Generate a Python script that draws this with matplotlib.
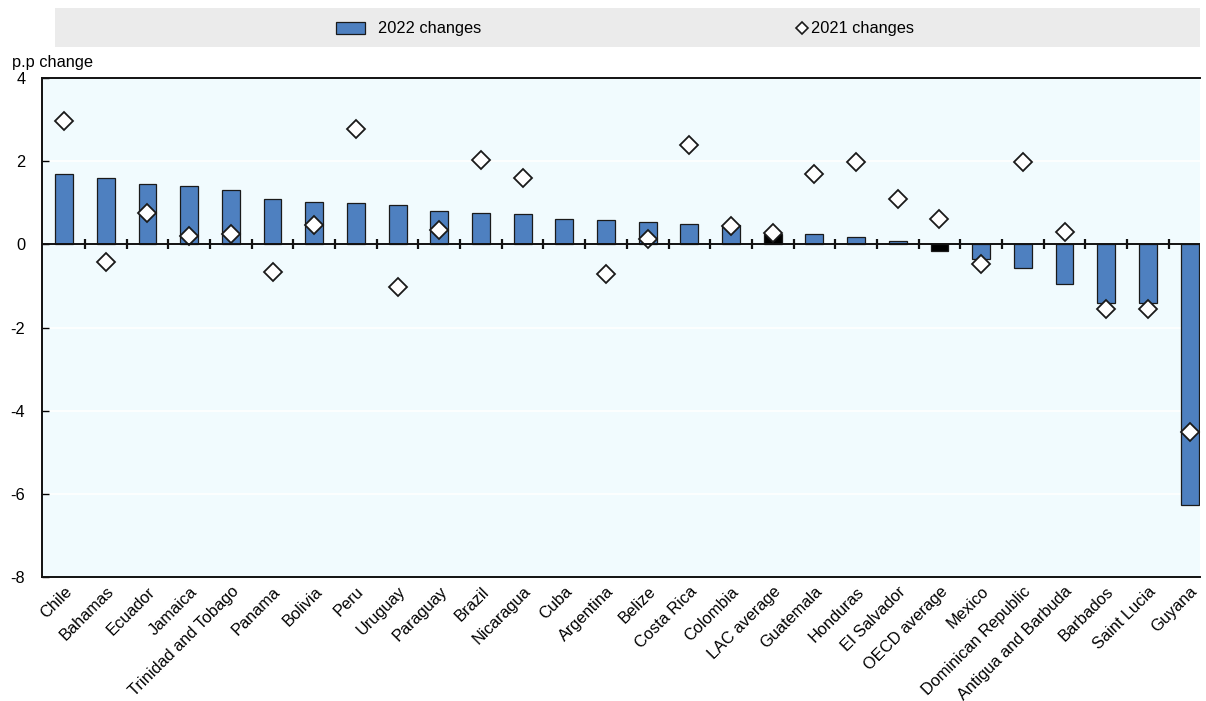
import numpy as np
import matplotlib
matplotlib.use("Agg")
import matplotlib.pyplot as plt
from matplotlib.patches import Rectangle
from matplotlib.lines import Line2D
from matplotlib import font_manager

categories = ["Chile", "Bahamas", "Ecuador", "Jamaica", "Trinidad and Tobago", "Panama",
              "Bolivia", "Peru", "Uruguay", "Paraguay", "Brazil", "Nicaragua", "Cuba",
              "Argentina", "Belize", "Costa Rica", "Colombia", "LAC average", "Guatemala",
              "Honduras", "El Salvador", "OECD average", "Mexico", "Dominican Republic",
              "Antigua and Barbuda", "Barbados", "Saint Lucia", "Guyana"]
changes_2022 = [1.70, 1.60, 1.45, 1.40, 1.30, 1.08, 1.03, 1.00, 0.94, 0.80, 0.75, 0.72, 0.60,
                0.58, 0.53, 0.50, 0.46, 0.26, 0.24, 0.17, 0.08, -0.15, -0.36, -0.58,
                -0.95, -1.40, -1.40, -6.27]
changes_2021 = [2.96, -0.43, 0.75, 0.20, 0.25, -0.67, 0.46, 2.77, -1.03, 0.35, 2.02, 1.60, np.nan,
                -0.72, 0.13, 2.40, 0.43, 0.27, 1.70, 1.98, 1.10, 0.60, -0.47, 1.98,
                0.29, -1.56, -1.56, -4.52]
highlight = ["LAC average", "OECD average"]
yticks = [4, 2, 0, -2, -4, -6, -8]

names = {f.name for f in font_manager.fontManager.ttflist}
fam = [n for n in ["Liberation Sans Narrow", "Liberation Sans"] if n in names] + ["DejaVu Sans"]
plt.rcParams['font.family'] = fam
narrow = fam[0] == "Liberation Sans Narrow"
fs = 13.4 if narrow else 11.8
fs_leg = 13.3 if narrow else 11.8

fig = plt.figure(figsize=(12.06, 7.01), dpi=100)
ax = fig.add_axes([42/1206, 1-577/701, (1200-42)/1206, (577-78)/701])
ax.set_facecolor("#F1FBFE")

x = np.arange(len(categories))
colors = ["#000000" if c in highlight else "#4E80C0" for c in categories]
ax.bar(x, changes_2022, width=0.43, color=colors, edgecolor="#1a1a1a", linewidth=0.9, zorder=3)
ax.plot(x, changes_2021, linestyle="none", marker="D", markersize=8.8,
        markerfacecolor="white", markeredgecolor="#1a1a1a", markeredgewidth=1.3, zorder=4)

ax.set_xlim(-0.53, len(categories) - 0.75)
ax.set_ylim(-8, 4)
ax.set_yticks(yticks)
ax.set_yticklabels([str(t) for t in yticks], fontsize=fs)
ax.tick_params(axis="y", direction="in", length=5, width=1, pad=12)
ax.set_xticks(x)
ax.set_xticklabels(categories, rotation=45, ha="right", rotation_mode="anchor", fontsize=fs)
ax.tick_params(axis="x", length=0, pad=5)

ax.grid(axis="y", color="white", linewidth=1.2, zorder=0)
ax.axhline(0, color="#111111", linewidth=1.4, zorder=5)
# small ticks on the zero line between categories
ax.plot(x[:-1] + 0.5, np.zeros(len(x) - 1), linestyle="none", marker="|",
        markersize=7, markeredgewidth=1.6, color="#111111", zorder=5)

for s in ["left", "top", "bottom"]:
    ax.spines[s].set_color("#111111")
    ax.spines[s].set_linewidth(1.4)
ax.spines["right"].set_visible(False)

# y-axis unit label
fig.text(12/1206, 1-62/701, "p.p change", fontsize=fs, ha="left", va="center")

# legend band
fig.patches.append(Rectangle((55/1206, 1-47/701), (1200-55)/1206, 39/701,
                             transform=fig.transFigure, facecolor="#EBEBEB",
                             edgecolor="none", zorder=0))
h1 = Rectangle((0, 0), 1, 1, facecolor="#4E80C0", edgecolor="#1a1a1a", linewidth=0.9)
h2 = Line2D([], [], linestyle="none", marker="D", markersize=6.5,
            markerfacecolor="white", markeredgecolor="#1a1a1a", markeredgewidth=1.2)
leg1 = fig.legend([h1], ["2022 changes"], loc="center left",
                  bbox_to_anchor=(336/1206, 1-29/701), frameon=False, fontsize=fs_leg,
                  borderpad=0, borderaxespad=0, handlelength=1.78, handleheight=0.75,
                  handletextpad=0.76)
leg2 = fig.legend([h2], ["2021 changes"], loc="center left",
                  bbox_to_anchor=(795/1206, 1-29/701), frameon=False, fontsize=fs_leg,
                  borderpad=0, borderaxespad=0, handlelength=0.8, handletextpad=0.15)

fig.savefig("out.png", dpi=100)
